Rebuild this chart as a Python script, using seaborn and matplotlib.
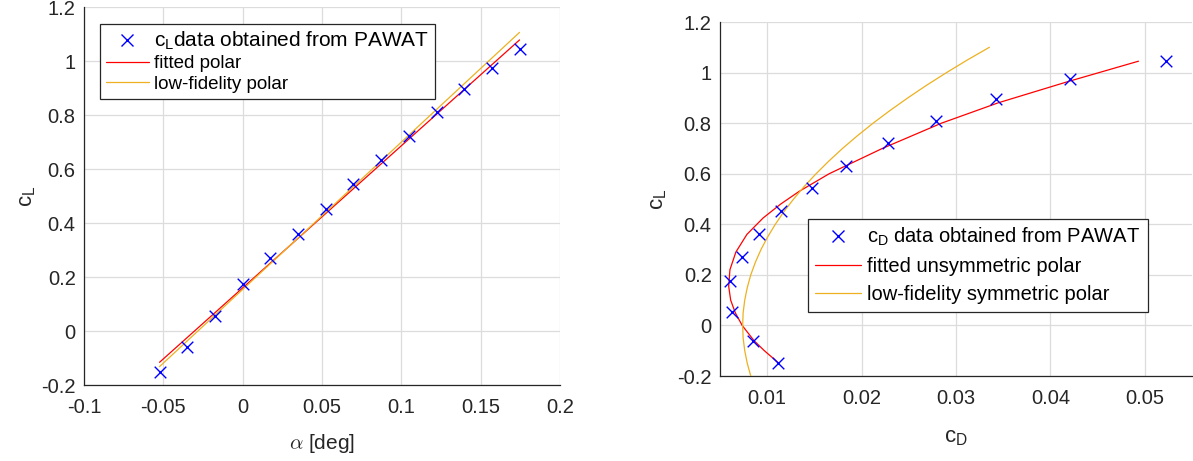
import numpy as np
import pandas as pd
import matplotlib
matplotlib.use("Agg")
import matplotlib.pyplot as plt
from matplotlib.lines import Line2D
from matplotlib.ticker import FuncFormatter, FixedLocator
import seaborn as sns

# ---------------- data ----------------
alpha = [-0.0524, -0.0349, -0.0175, 0.0, 0.0175, 0.0349, 0.0524,
         0.0698, 0.0873, 0.1047, 0.1222, 0.1396, 0.1571, 0.1745]
cl_data = [-0.150, -0.060, 0.055, 0.175, 0.270, 0.360, 0.452,
           0.543, 0.632, 0.722, 0.810, 0.896, 0.975, 1.046]
cd_data = [0.0111, 0.0085, 0.0063, 0.0061, 0.0073, 0.0091, 0.0115,
           0.0147, 0.0184, 0.0228, 0.0279, 0.0342, 0.0421, 0.0522]

alpha_line = [-0.0524, 0.1745]
cl_fit_line = [-0.116, 1.078]
cl_lofi_line = [-0.132, 1.106]

cl_fit_curve = [-0.145, -0.10, -0.06, 0.0, 0.05, 0.10, 0.155, 0.22, 0.29, 0.36,
                0.425, 0.48, 0.53, 0.60, 0.70, 0.80, 0.88, 0.965, 1.045]
cd_fit_curve = [0.0111, 0.0097, 0.0086, 0.00735, 0.00662, 0.00613, 0.00592, 0.00605,
                0.00668, 0.00785, 0.00957, 0.01143, 0.01338, 0.01657, 0.0222,
                0.02847, 0.03444, 0.04192, 0.04933]

cl_lofi_curve = [-0.20, -0.15, -0.10, -0.05, 0.00, 0.05, 0.10, 0.15, 0.20, 0.25,
                 0.30, 0.35, 0.40, 0.45, 0.50, 0.55, 0.60, 0.65, 0.70, 0.75,
                 0.80, 0.85, 0.90, 0.95, 1.00, 1.05, 1.10]
cd_lofi_curve = [0.00826, 0.00789, 0.00762, 0.00745, 0.00740, 0.00745, 0.00762,
                 0.00789, 0.00826, 0.00875, 0.00934, 0.01005, 0.01086, 0.01177,
                 0.01280, 0.01393, 0.01518, 0.01653, 0.01798, 0.01955, 0.02122,
                 0.02301, 0.02490, 0.02689, 0.02900, 0.03121, 0.03354]

left_legend = [r"c$_\mathrm{L}$data obtained from PAWAT", "fitted polar", "low-fidelity polar"]
right_legend = [r"c$_\mathrm{D}$ data obtained from PAWAT", "fitted unsymmetric polar",
                "low-fidelity symmetric polar"]

# ---------------- style ----------------
sns.set_theme(style="white")
plt.rcParams["font.family"] = ["Liberation Sans", "DejaVu Sans"]
plt.rcParams["mathtext.fontset"] = "custom"
plt.rcParams["mathtext.rm"] = "Liberation Sans"
plt.rcParams["mathtext.it"] = "Liberation Sans:italic"
plt.rcParams["mathtext.bf"] = "Liberation Sans:bold"
plt.rcParams["axes.unicode_minus"] = False

DARK = "#262626"
GRID = "#dcdcdc"
BLUE = "#0000ff"
RED = "#ff0000"
YEL = "#EDB120"

fig = plt.figure(figsize=(11.93, 4.61), dpi=100)
W, H = 1193, 461
axL = fig.add_axes([84 / W, 1 - 385 / H, (560 - 84) / W, (385 - 7) / H])
axR = fig.add_axes([720 / W, 1 - 376 / H, (1192 - 720) / W, (376 - 22) / H])

fmt = FuncFormatter(lambda v, p: f"{v:g}" if abs(v) > 1e-12 else "0")

def style(ax):
    ax.grid(True, color=GRID, linewidth=0.9)
    ax.set_axisbelow(True)
    for s in ["top", "right"]:
        ax.spines[s].set_visible(False)
    for s in ["left", "bottom"]:
        ax.spines[s].set_color(DARK)
        ax.spines[s].set_linewidth(0.9)
    ax.tick_params(direction="in", length=5, width=0.9, color=DARK,
                   labelcolor=DARK, labelsize=14.5)
    ax.tick_params(axis="x", pad=9)
    ax.tick_params(axis="y", pad=6)
    ax.yaxis.set_major_formatter(fmt)
    ax.xaxis.set_major_formatter(fmt)

MS = 70

# ---------------- left plot ----------------
dfL = pd.DataFrame({"alpha": alpha, "cl": cl_data})
sns.scatterplot(data=dfL, x="alpha", y="cl", ax=axL, marker="x", color=BLUE,
                s=MS, linewidth=1.0, zorder=4, legend=False)
sns.lineplot(x=alpha_line, y=cl_fit_line, ax=axL, color=RED, linewidth=0.9,
             sort=False, estimator=None, zorder=3)
sns.lineplot(x=alpha_line, y=cl_lofi_line, ax=axL, color=YEL, linewidth=0.9,
             sort=False, estimator=None, zorder=3)
axL.set_xlim(-0.1, 0.2)
axL.set_ylim(-0.2, 1.2)
axL.xaxis.set_major_locator(FixedLocator([-0.1, -0.05, 0, 0.05, 0.1, 0.15, 0.2]))
axL.yaxis.set_major_locator(FixedLocator([-0.2, 0, 0.2, 0.4, 0.6, 0.8, 1.0, 1.2]))
style(axL)
axL.set_xlabel(r"$\alpha$ [deg]", fontsize=15, color=DARK, math_fontfamily="cm", labelpad=11)
axL.set_ylabel(r"c$_\mathrm{L}$", fontsize=16, color=DARK, labelpad=2)

handlesL = [Line2D([], [], marker="x", color=BLUE, linestyle="none", markersize=8.5, markeredgewidth=1.0),
            Line2D([], [], color=RED, linewidth=0.9),
            Line2D([], [], color=YEL, linewidth=0.9)]
legL = axL.legend(handlesL, left_legend, loc="upper left",
                  bbox_to_anchor=(100 / W, 1 - 24 / H), bbox_transform=fig.transFigure,
                  fontsize=13.5, frameon=True, fancybox=False, framealpha=1,
                  edgecolor=DARK, borderaxespad=0, borderpad=0.3,
                  handlelength=2.3, handletextpad=0.3, labelspacing=0.18)
legL.get_frame().set_linewidth(0.9)
legL.get_texts()[0].set_fontsize(15)
for t in legL.get_texts():
    t.set_color("#000000")

# ---------------- right plot ----------------
dfR = pd.DataFrame({"cd": cd_data, "cl": cl_data})
sns.scatterplot(data=dfR, x="cd", y="cl", ax=axR, marker="x", color=BLUE,
                s=MS, linewidth=1.0, zorder=4, legend=False)
sns.lineplot(x=cd_fit_curve, y=cl_fit_curve, ax=axR, color=RED, linewidth=0.9,
             sort=False, estimator=None, zorder=3)
sns.lineplot(x=cd_lofi_curve, y=cl_lofi_curve, ax=axR, color=YEL, linewidth=0.9,
             sort=False, estimator=None, zorder=3)
axR.set_xlim(0.005, 0.055)
axR.set_ylim(-0.2, 1.2)
axR.xaxis.set_major_locator(FixedLocator([0.01, 0.02, 0.03, 0.04, 0.05]))
axR.yaxis.set_major_locator(FixedLocator([-0.2, 0, 0.2, 0.4, 0.6, 0.8, 1.0, 1.2]))
style(axR)
axR.set_xlabel(r"c$_\mathrm{D}$", fontsize=16, color=DARK, labelpad=14)
axR.set_ylabel(r"c$_\mathrm{L}$", fontsize=16, color=DARK, labelpad=6)

handlesR = [Line2D([], [], marker="x", color=BLUE, linestyle="none", markersize=8.5, markeredgewidth=1.0),
            Line2D([], [], color=RED, linewidth=0.9),
            Line2D([], [], color=YEL, linewidth=0.9)]
legR = axR.legend(handlesR, right_legend, loc="upper left",
                  bbox_to_anchor=(808 / W, 1 - 219 / H), bbox_transform=fig.transFigure,
                  fontsize=14.5, frameon=True, fancybox=False, framealpha=1,
                  edgecolor=DARK, borderaxespad=0, borderpad=0.35,
                  handlelength=2.3, handletextpad=0.3, labelspacing=0.45)
legR.get_frame().set_linewidth(0.9)
for t in legR.get_texts():
    t.set_color("#000000")

fig.savefig("out.png", dpi=100)
